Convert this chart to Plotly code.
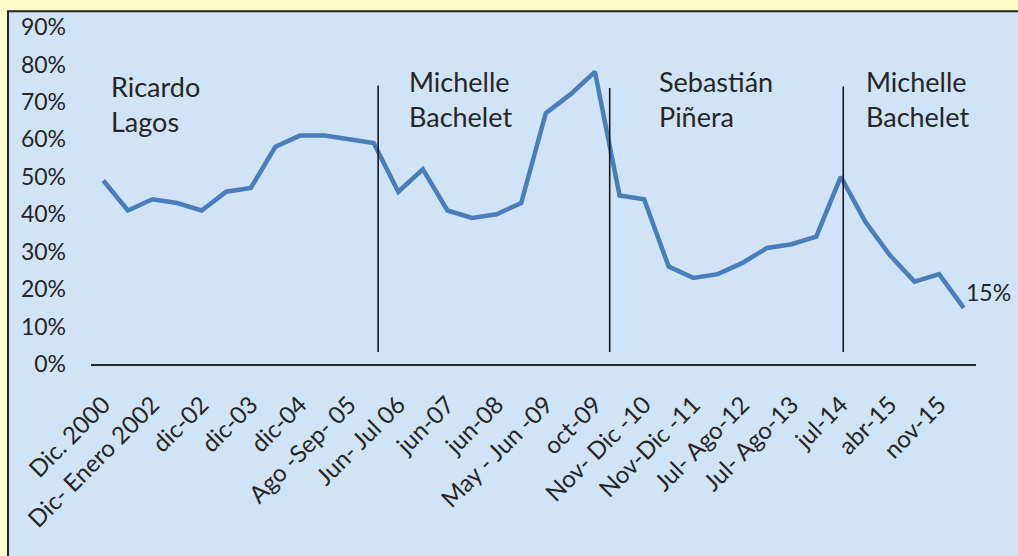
import plotly.graph_objects as go

# ---- data ----
approval = [49, 41, 44, 43, 41, 46, 47, 58, 61, 61, 60, 59,
            46, 52, 41, 39, 40, 43, 67, 72, 78, 45, 44, 26,
            23, 24, 27, 31, 32, 34, 50, 38, 29, 22, 24, 15]
period_labels = ["Dic. 2000", "Dic- Enero 2002", "dic-02", "dic-03", "dic-04",
                 "Ago -Sep- 05", "Jun- Jul 06", "jun-07", "jun-08",
                 "May - Jun -09", "oct-09", "Nov- Dic -10", "Nov-Dic -11",
                 "Jul- Ago-12", "Jul- Ago-13", "jul-14", "abr-15", "nov-15"]
presidents = ["Ricardo<br>Lagos", "Michelle<br>Bachelet", "Sebastián<br>Piñera", "Michelle<br>Bachelet"]
last_label = "15%"
y_ticks = [0, 10, 20, 30, 40, 50, 60, 70, 80, 90]

x_idx = list(range(len(approval)))
tick_pos = x_idx[::2]
vals = [v / 100 for v in approval]

FONT = "Lato"
W, H = 1018, 556
L, R, T, B = 91, 42, 24, 192
pw, ph = W - L - R, H - T - B

def px_x(p):
    return (p - L) / pw

def px_y(p):
    return (H - B - p) / ph

fig = go.Figure()
fig.add_trace(go.Scatter(
    x=x_idx, y=vals, mode="lines",
    line=dict(color="#4A7EBB", width=4.5),
    hoverinfo="skip", showlegend=False,
))

shapes = [
    dict(type="rect", xref="paper", yref="paper",
         x0=px_x(8), x1=px_x(1040), y0=px_y(8), y1=px_y(600),
         fillcolor="#D1E3F6", line=dict(color="#262626", width=2), layer="below"),
]
for xv, ytop in [(11.18, 0.744), (20.6, 0.737), (30.1, 0.741)]:
    shapes.append(dict(type="line", xref="x", yref="y", x0=xv, x1=xv,
                       y0=0.032, y1=ytop, line=dict(color="#1A1A1A", width=1.6)))

annotations = []
for txt, (ax, ay) in zip(presidents, [(109, 65), (407, 60), (657, 60), (864, 60)]):
    annotations.append(dict(text=txt, xref="paper", yref="paper",
                            x=px_x(ax), y=px_y(ay), xanchor="left", yanchor="top",
                            showarrow=False, align="left",
                            font=dict(family=FONT, size=27, color="#262626")))
annotations.append(dict(text=last_label, xref="x", yref="y", x=x_idx[-1], y=vals[-1],
                        xanchor="left", yanchor="bottom", xshift=0, yshift=0,
                        showarrow=False,
                        font=dict(family=FONT, size=23, color="#262626")))

fig.update_layout(
    width=W, height=H,
    margin=dict(l=L, r=R, t=T, b=B, pad=0),
    paper_bgcolor="#FFFFCC", plot_bgcolor="rgba(0,0,0,0)",
    shapes=shapes, annotations=annotations,
    xaxis=dict(range=[-0.5, len(approval) - 0.5], tickmode="array",
               tickvals=tick_pos, ticktext=period_labels, tickangle=-45,
               showgrid=False, zeroline=False, showline=True,
               linecolor="#262626", linewidth=2, ticks="",
               ticklabelstandoff=15,
               tickfont=dict(family=FONT, size=24, color="#262626")),
    yaxis=dict(range=[0, 0.9], tickmode="array",
               tickvals=[t / 100 for t in y_ticks],
               ticktext=[f"{t}%" for t in y_ticks],
               showgrid=False, zeroline=False, showline=False, ticks="",
               ticklabelstandoff=24,
               tickfont=dict(family=FONT, size=23, color="#262626")),
)

fig.write_html("out.html", config={"displayModeBar": False},
               post_script="document.body.style.margin='0px';"
                           "document.body.style.background='#FFFFCC';")
